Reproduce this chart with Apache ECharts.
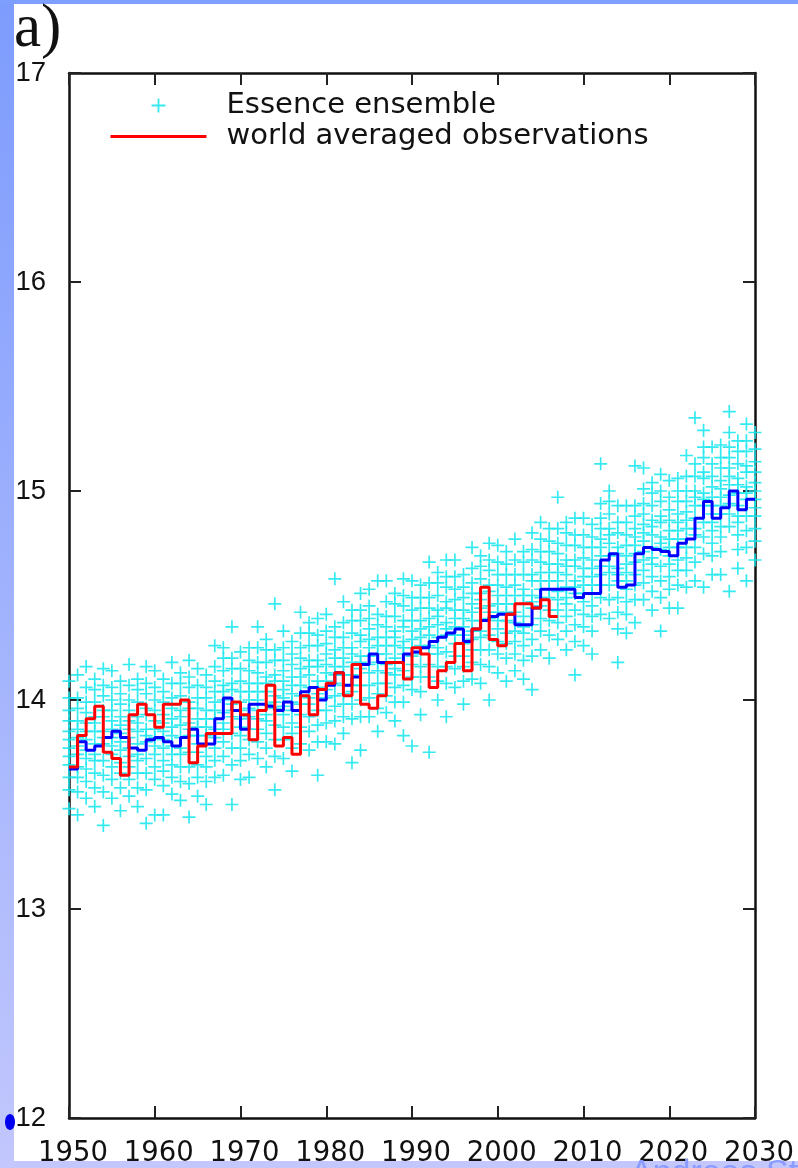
<!DOCTYPE html>
<html>
<head>
<meta charset="utf-8">
<script src="https://cdn.jsdelivr.net/npm/echarts@6/dist/echarts.min.js"></script>
<style>
html,body{margin:0;padding:0;background:#ffffff;}
#chart{width:798px;height:1168px;}
</style>
</head>
<body>
<div id="chart"></div>
<script>
// ---------- data ----------
const firstYear = 1950;
const xTicks = [1950, 1960, 1970, 1980, 1990, 2000, 2010, 2020, 2030];
const yTicks = [12, 13, 14, 15, 16, 17];

// ensemble mean (blue step line), one value per year from 1950 to 2029
const ensembleMean = [
  13.67, 13.80, 13.76, 13.78, 13.82, 13.85, 13.82, 13.77, 13.76, 13.81,
  13.82, 13.80, 13.78, 13.82, 13.86, 13.79, 13.79, 13.91, 14.01, 13.95,
  13.86, 13.98, 13.98, 13.97, 13.95, 13.99, 13.95, 14.04, 14.06, 14.00,
  14.07, 14.13, 14.07, 14.11, 14.17, 14.22, 14.18, 14.18, 14.18, 14.22,
  14.23, 14.25, 14.28, 14.30, 14.32, 14.34, 14.28, 14.34, 14.38, 14.40,
  14.41, 14.41, 14.36, 14.36, 14.44, 14.53, 14.53, 14.53, 14.53, 14.49,
  14.51, 14.51, 14.67, 14.70, 14.54, 14.55, 14.70, 14.73, 14.72, 14.71,
  14.69, 14.75, 14.77, 14.87, 14.95, 14.87, 14.92, 15.00, 14.91, 14.96
];

// world averaged observations (red step line), 1950 to 2006
const observations = [
  13.68, 13.83, 13.91, 13.97, 13.75, 13.72, 13.64, 13.93, 13.98, 13.93,
  13.87, 13.98, 13.98, 14.00, 13.70, 13.78, 13.84, 13.84, 13.84, 13.99,
  13.93, 13.81, 13.95, 14.07, 13.78, 13.82, 13.74, 14.02, 13.93, 14.05,
  14.08, 14.13, 14.02, 14.17, 13.98, 13.96, 14.02, 14.18, 14.18, 14.10,
  14.25, 14.22, 14.06, 14.14, 14.18, 14.27, 14.14, 14.34, 14.54, 14.29,
  14.26, 14.41, 14.46, 14.46, 14.44, 14.48, 14.40
];

// Essence ensemble members, one row per year from 1950 to 2030
const ensemble = [
  [13.48,13.57,13.63,13.69,13.73,13.77,13.81,13.85,13.90,13.95,14.01,14.09], // 1950
  [13.45,13.56,13.63,13.68,13.74,13.78,13.82,13.86,13.90,13.96,14.01,14.12],
  [13.53,13.61,13.67,13.72,13.76,13.81,13.85,13.89,13.94,13.99,14.06,14.16],
  [13.49,13.58,13.65,13.71,13.74,13.79,13.85,13.89,13.92,13.99,14.05,14.10],
  [13.40,13.56,13.64,13.71,13.79,13.82,13.85,13.92,13.95,14.02,14.07,14.15],
  [13.53,13.62,13.68,13.74,13.78,13.82,13.86,13.90,13.95,14.00,14.06,14.14],
  [13.47,13.58,13.65,13.70,13.76,13.80,13.84,13.88,13.92,13.98,14.03,14.09],
  [13.54,13.62,13.68,13.73,13.77,13.82,13.86,13.90,13.95,14.00,14.07,14.17],
  [13.49,13.58,13.65,13.71,13.74,13.79,13.85,13.89,13.92,13.99,14.05,14.10],
  [13.41,13.57,13.65,13.72,13.80,13.83,13.86,13.93,13.96,14.03,14.08,14.16],
  [13.45,13.62,13.68,13.74,13.78,13.82,13.86,13.90,13.95,14.00,14.06,14.14], // 1960
  [13.45,13.59,13.66,13.71,13.77,13.81,13.85,13.89,13.93,13.99,14.04,14.10],
  [13.55,13.63,13.69,13.74,13.78,13.83,13.87,13.91,13.96,14.01,14.08,14.18],
  [13.52,13.61,13.68,13.74,13.77,13.82,13.88,13.92,13.95,14.02,14.08,14.13],
  [13.44,13.60,13.68,13.75,13.83,13.86,13.89,13.96,13.99,14.06,14.11,14.19],
  [13.54,13.63,13.69,13.75,13.79,13.83,13.87,13.91,13.96,14.01,14.07,14.15],
  [13.50,13.61,13.68,13.73,13.79,13.83,13.87,13.91,13.95,14.01,14.06,14.12],
  [13.63,13.71,13.77,13.82,13.86,13.91,13.95,13.99,14.04,14.09,14.16,14.26],
  [13.64,13.73,13.80,13.86,13.89,13.94,14.00,14.04,14.07,14.14,14.20,14.25],
  [13.50,13.69,13.77,13.84,13.92,13.95,13.98,14.05,14.08,14.15,14.20,14.35],
  [13.62,13.71,13.77,13.83,13.87,13.91,13.95,13.99,14.04,14.09,14.15,14.23], // 1970
  [13.63,13.74,13.81,13.86,13.92,13.96,14.00,14.04,14.08,14.14,14.19,14.25],
  [13.72,13.80,13.86,13.91,13.95,14.00,14.04,14.08,14.13,14.18,14.25,14.35],
  [13.68,13.77,13.84,13.90,13.93,13.98,14.04,14.08,14.11,14.18,14.24,14.29],
  [13.57,13.73,13.81,13.88,13.96,13.99,14.02,14.09,14.12,14.19,14.24,14.46],
  [13.72,13.81,13.87,13.93,13.97,14.01,14.05,14.09,14.14,14.19,14.25,14.33],
  [13.66,13.77,13.84,13.89,13.95,13.99,14.03,14.07,14.11,14.17,14.22,14.28],
  [13.79,13.87,13.93,13.98,14.02,14.07,14.11,14.15,14.20,14.25,14.32,14.42],
  [13.76,13.85,13.92,13.98,14.01,14.06,14.12,14.16,14.19,14.26,14.32,14.37],
  [13.64,13.80,13.88,13.95,14.03,14.06,14.09,14.16,14.19,14.26,14.31,14.39],
  [13.80,13.89,13.95,14.01,14.05,14.09,14.13,14.17,14.22,14.27,14.33,14.41], // 1980
  [13.79,13.90,13.97,14.02,14.08,14.12,14.16,14.20,14.24,14.30,14.35,14.58],
  [13.84,13.92,13.98,14.03,14.07,14.12,14.16,14.20,14.25,14.30,14.37,14.47],
  [13.70,13.91,13.98,14.04,14.07,14.12,14.18,14.22,14.25,14.32,14.38,14.43],
  [13.76,13.92,14.00,14.07,14.15,14.18,14.21,14.28,14.31,14.38,14.43,14.51],
  [13.92,14.01,14.07,14.13,14.17,14.21,14.25,14.29,14.34,14.39,14.45,14.53],
  [13.85,13.96,14.03,14.08,14.14,14.18,14.22,14.26,14.30,14.36,14.41,14.57],
  [13.94,14.02,14.08,14.13,14.17,14.22,14.26,14.30,14.35,14.40,14.47,14.57],
  [13.90,13.99,14.06,14.12,14.15,14.20,14.26,14.30,14.33,14.40,14.46,14.51],
  [13.83,13.99,14.07,14.14,14.22,14.25,14.28,14.35,14.38,14.45,14.50,14.58],
  [13.78,14.05,14.11,14.17,14.21,14.25,14.29,14.33,14.38,14.43,14.49,14.57], // 1990
  [13.93,14.04,14.11,14.16,14.22,14.26,14.30,14.34,14.38,14.44,14.49,14.55],
  [13.75,14.11,14.17,14.22,14.26,14.31,14.35,14.39,14.44,14.49,14.56,14.66],
  [14.00,14.09,14.16,14.22,14.25,14.30,14.36,14.40,14.43,14.50,14.56,14.61],
  [13.92,14.08,14.16,14.23,14.31,14.34,14.37,14.44,14.47,14.54,14.59,14.67],
  [14.06,14.15,14.21,14.27,14.31,14.35,14.39,14.43,14.48,14.53,14.59,14.67],
  [13.98,14.09,14.16,14.21,14.27,14.31,14.35,14.39,14.43,14.49,14.54,14.60],
  [14.10,14.18,14.24,14.29,14.33,14.38,14.42,14.46,14.51,14.56,14.63,14.73],
  [14.08,14.17,14.24,14.30,14.33,14.38,14.44,14.48,14.51,14.58,14.64,14.69],
  [14.00,14.16,14.24,14.31,14.39,14.42,14.45,14.52,14.55,14.62,14.67,14.75],
  [14.13,14.22,14.28,14.34,14.38,14.42,14.46,14.50,14.55,14.60,14.66,14.74], // 2000
  [14.09,14.20,14.27,14.32,14.38,14.42,14.46,14.50,14.54,14.60,14.65,14.71],
  [14.14,14.22,14.28,14.33,14.37,14.42,14.46,14.50,14.55,14.60,14.67,14.77],
  [14.10,14.19,14.26,14.32,14.35,14.40,14.46,14.50,14.53,14.60,14.66,14.71],
  [14.05,14.21,14.29,14.36,14.44,14.47,14.50,14.57,14.60,14.67,14.72,14.80],
  [14.24,14.33,14.39,14.45,14.49,14.53,14.57,14.61,14.66,14.71,14.77,14.85],
  [14.20,14.31,14.38,14.43,14.49,14.53,14.57,14.61,14.65,14.71,14.76,14.82],
  [14.29,14.37,14.43,14.48,14.52,14.57,14.61,14.65,14.70,14.75,14.82,14.97],
  [14.24,14.33,14.40,14.46,14.49,14.54,14.60,14.64,14.67,14.74,14.80,14.85],
  [14.12,14.28,14.36,14.43,14.51,14.54,14.57,14.64,14.67,14.74,14.79,14.87],
  [14.26,14.35,14.41,14.47,14.51,14.55,14.59,14.63,14.68,14.73,14.79,14.87], // 2010
  [14.22,14.33,14.40,14.45,14.51,14.55,14.59,14.63,14.67,14.73,14.78,14.84],
  [14.41,14.49,14.55,14.60,14.64,14.69,14.73,14.77,14.82,14.87,14.94,15.13],
  [14.39,14.48,14.55,14.61,14.64,14.69,14.75,14.79,14.82,14.89,14.95,15.00],
  [14.18,14.34,14.42,14.49,14.57,14.60,14.63,14.70,14.73,14.80,14.85,14.93],
  [14.32,14.41,14.47,14.53,14.57,14.61,14.65,14.69,14.74,14.79,14.85,14.93],
  [14.37,14.48,14.55,14.60,14.66,14.70,14.74,14.78,14.82,14.88,14.93,15.12],
  [14.48,14.56,14.62,14.67,14.71,14.76,14.80,14.84,14.89,14.94,15.01,15.11],
  [14.43,14.52,14.59,14.65,14.68,14.73,14.79,14.83,14.86,14.93,14.99,15.04],
  [14.33,14.49,14.57,14.64,14.72,14.75,14.78,14.85,14.88,14.95,15.00,15.08],
  [14.44,14.53,14.59,14.65,14.69,14.73,14.77,14.81,14.86,14.91,14.97,15.05], // 2020
  [14.44,14.55,14.62,14.67,14.73,14.77,14.81,14.85,14.89,14.95,15.00,15.06],
  [14.54,14.62,14.68,14.73,14.77,14.82,14.86,14.90,14.95,15.00,15.07,15.17],
  [14.57,14.66,14.73,14.79,14.82,14.87,14.93,14.97,15.00,15.07,15.13,15.35],
  [14.54,14.70,14.78,14.85,14.93,14.96,14.99,15.06,15.09,15.16,15.21,15.29],
  [14.60,14.69,14.75,14.81,14.85,14.89,14.93,14.97,15.02,15.07,15.13,15.21],
  [14.60,14.71,14.78,14.83,14.89,14.93,14.97,15.01,15.05,15.11,15.16,15.22],
  [14.52,14.83,14.89,14.94,14.98,15.03,15.07,15.11,15.16,15.21,15.28,15.38],
  [14.63,14.72,14.79,14.85,14.88,14.93,14.99,15.03,15.06,15.13,15.19,15.24],
  [14.57,14.73,14.81,14.88,14.96,14.99,15.02,15.09,15.12,15.19,15.24,15.32],
  [14.67,14.76,14.82,14.88,14.92,14.96,15.00,15.04,15.09,15.14,15.20,15.28]  // 2030
];

// ---------- build series data ----------
function stepData(values) {
  const d = values.map((v, i) => [firstYear + i, v]);
  d.push([firstYear + values.length, values[values.length - 1]]);
  return d;
}
const scatterData = [];
ensemble.forEach((row, i) => row.forEach(v => scatterData.push([firstYear + i, v])));

const plusPath = 'path://M4.35,0h1.3v4.35h4.35v1.3h-4.35v4.35h-1.3v-4.35h-4.35v-1.3h4.35z';
const axisCommon = {
  axisLine: { show: true, lineStyle: { color: '#111', width: 2.5 } },
  axisTick: { show: true, inside: true, length: 12, lineStyle: { color: '#222', width: 2 } },
  splitLine: { show: false }
};

const chart = echarts.init(document.getElementById('chart'), null, { renderer: 'canvas' });
chart.setOption({
  backgroundColor: '#ffffff',
  animation: false,
  grid: { left: 69, right: 43, top: 73, bottom: 50, containLabel: false },
  legend: {
    data: [
      { name: 'Essence ensemble' },
      { name: 'world averaged observations', itemStyle: { opacity: 0 }, lineStyle: { width: 3, color: '#ff0000' } }
    ],
    orient: 'vertical',
    left: 109,
    top: 91,
    padding: 0,
    itemWidth: 96,
    itemHeight: 14,
    itemGap: 2,
    selectedMode: false,
    textStyle: { fontFamily: 'DejaVu Sans', fontSize: 29, color: '#111', lineHeight: 29, padding: [0, 0, 0, 15] }
  },
  xAxis: [
    Object.assign({
      type: 'value', min: xTicks[0], max: xTicks[xTicks.length - 1], interval: 10, position: 'bottom',
      axisLabel: { fontFamily: 'DejaVu Sans', fontSize: 27.5, color: '#111', margin: 22, padding: [0, 0, 0, 8],
        showMinLabel: true, showMaxLabel: true, formatter: v => String(v) }
    }, axisCommon),
    Object.assign({
      type: 'value', min: xTicks[0], max: xTicks[xTicks.length - 1], interval: 10, position: 'top',
      axisLabel: { show: false }
    }, axisCommon)
  ],
  yAxis: [
    Object.assign({
      type: 'value', min: yTicks[0], max: yTicks[yTicks.length - 1], interval: 1, position: 'left',
      axisLabel: { fontFamily: 'Liberation Sans', fontSize: 27.5, color: '#111', margin: 23,
        showMinLabel: true, showMaxLabel: true }
    }, axisCommon),
    Object.assign({
      type: 'value', min: yTicks[0], max: yTicks[yTicks.length - 1], interval: 1, position: 'right',
      axisLabel: { show: false }
    }, axisCommon)
  ],
  series: [
    {
      name: 'Essence ensemble',
      type: 'scatter',
      data: scatterData,
      symbol: plusPath,
      symbolSize: 13,
      itemStyle: { color: '#1ee8ee', opacity: 0.9 },
      clip: false,
      z: 1
    },
    {
      name: 'ensemble mean',
      type: 'line',
      step: 'end',
      data: stepData(ensembleMean),
      symbol: 'none',
      lineStyle: { color: '#0000ff', width: 3 },
      itemStyle: { color: '#0000ff' },
      z: 3
    },
    {
      name: 'world averaged observations',
      type: 'line',
      step: 'end',
      data: stepData(observations),
      symbol: 'none',
      lineStyle: { color: '#ff0000', width: 3 },
      itemStyle: { color: '#ff0000' },
      z: 4
    }
  ],
  graphic: [
    { type: 'rect', shape: { x: 0, y: 0, width: 14, height: 1168 }, z: 100,
      style: { fill: new echarts.graphic.LinearGradient(0, 0, 0, 1, [
        { offset: 0, color: '#7d9cfd' }, { offset: 1, color: '#c2c7fd' }]) } },
    { type: 'rect', shape: { x: 0, y: 0, width: 798, height: 4 }, z: 100, style: { fill: '#7f9ffe' } },
    { type: 'rect', shape: { x: 0, y: 1161, width: 798, height: 7 }, z: 100, style: { fill: '#c3c7fd' } },
    { type: 'ellipse', shape: { cx: 10, cy: 1122, rx: 5, ry: 8 }, z: 101, style: { fill: '#0000ee' } },
    { type: 'text', left: 630, top: 1157, z: 101,
      style: { text: 'Andreas Sterl', fontFamily: 'Liberation Sans', fontSize: 34, fill: '#8b9bff' } },
    { type: 'text', left: 14, top: -1, z: 101,
      style: { text: 'a)', fontFamily: 'Liberation Serif', fontSize: 61, fill: '#111' } }
  ]
});
</script>
</body>
</html>
